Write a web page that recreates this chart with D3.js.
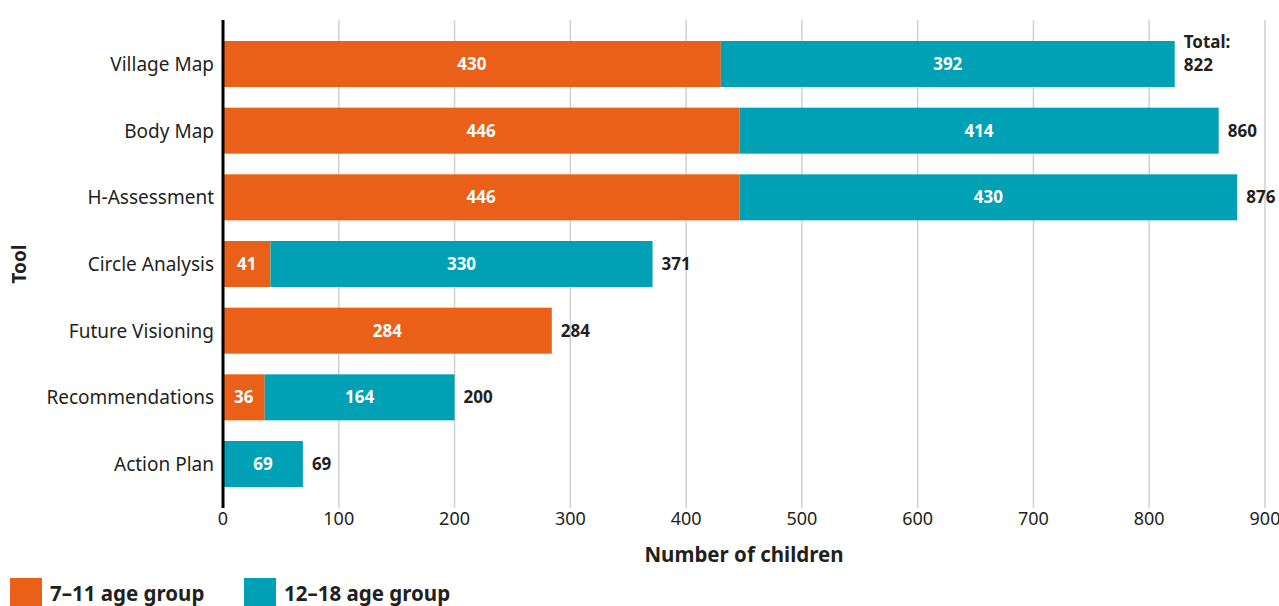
<!DOCTYPE html>
<html>
<head>
<meta charset="utf-8">
<script src="https://cdn.jsdelivr.net/npm/d3@7"></script>
<style>
  body { margin: 0; background: #fff; }
  svg { display: block; font-family: "Noto Sans", "Lato", sans-serif; }
</style>
</head>
<body>
<svg id="chart" width="1279" height="606"></svg>
<script>
// data
const tools = ["Village Map", "Body Map", "H-Assessment", "Circle Analysis", "Future Visioning", "Recommendations", "Action Plan"];
const age7to11 = [430, 446, 446, 41, 284, 36, 0];
const age12to18 = [392, 414, 430, 330, 0, 164, 69];
const totals = [822, 860, 876, 371, 284, 200, 69];
const xTicks = [0, 100, 200, 300, 400, 500, 600, 700, 800, 900];
const seriesNames = ["7–11 age group", "12–18 age group"];
const colors = ["#ea6019", "#00a1b4"];

const margin = { top: 20, right: 14, bottom: 98, left: 223 };
const width = 1279, height = 606;

const svg = d3.select("#chart");

const x = d3.scaleLinear().domain([0, 900]).range([margin.left, 1265]);
const y = d3.scaleBand().domain(tools).range([margin.top, height - margin.bottom])
  .paddingInner(0.31).paddingOuter(0.315);

// gridlines
svg.append("g")
  .selectAll("line")
  .data(xTicks.filter(d => d > 0))
  .join("line")
  .attr("x1", d => x(d)).attr("x2", d => x(d))
  .attr("y1", margin.top).attr("y2", height - margin.bottom)
  .attr("stroke", "#d0d0d0").attr("stroke-width", 1.5);

// tick labels
svg.append("g")
  .selectAll("text")
  .data(xTicks)
  .join("text")
  .attr("x", d => x(d))
  .attr("y", 525)
  .attr("text-anchor", "middle")
  .attr("font-size", 18)
  .attr("fill", "#231f20")
  .text(d => d);

// stacked bars
const rows = tools.map((t, i) => ({ tool: t, a: age7to11[i], b: age12to18[i], total: totals[i] }));
const stack = d3.stack().keys(["a", "b"])(rows);

stack.forEach((layer, li) => {
  const g = svg.append("g");
  g.selectAll("rect")
    .data(layer.filter(d => d[1] - d[0] > 0))
    .join("rect")
    .attr("x", d => x(d[0]))
    .attr("y", d => y(d.data.tool))
    .attr("width", d => x(d[1]) - x(d[0]))
    .attr("height", y.bandwidth())
    .attr("fill", colors[li]);
  g.selectAll("text")
    .data(layer.filter(d => d[1] - d[0] > 0))
    .join("text")
    .attr("x", d => (x(d[0]) + x(d[1])) / 2)
    .attr("y", d => y(d.data.tool) + y.bandwidth() / 2)
    .attr("dy", "0.36em")
    .attr("text-anchor", "middle")
    .attr("font-size", 17)
    .attr("font-weight", "bold")
    .attr("fill", "#fff")
    .text(d => d[1] - d[0]);
});

// totals
svg.append("g")
  .selectAll("text")
  .data(rows)
  .join("text")
  .attr("x", d => x(d.total) + 9)
  .attr("y", d => y(d.tool) + y.bandwidth() / 2)
  .attr("font-size", 17)
  .attr("font-weight", "bold")
  .attr("fill", "#231f20")
  .each(function (d, i) {
    const t = d3.select(this);
    if (i === 0) {
      t.append("tspan").attr("x", x(d.total) + 9).attr("dy", "-0.95em").text("Total:");
      t.append("tspan").attr("x", x(d.total) + 9).attr("dy", "1.35em").text(d.total);
    } else {
      t.attr("dy", "0.36em").text(d.total);
    }
  });

// category labels
svg.append("g")
  .selectAll("text")
  .data(tools)
  .join("text")
  .attr("x", margin.left - 9)
  .attr("y", d => y(d) + y.bandwidth() / 2)
  .attr("dy", "0.36em")
  .attr("text-anchor", "end")
  .attr("font-size", 19)
  .attr("fill", "#231f20")
  .text(d => d);

// y axis line
svg.append("line")
  .attr("x1", margin.left).attr("x2", margin.left)
  .attr("y1", margin.top).attr("y2", height - margin.bottom)
  .attr("stroke", "#000").attr("stroke-width", 3);

// axis titles
svg.append("text")
  .attr("x", (x(0) + x(900)) / 2)
  .attr("y", 562)
  .attr("text-anchor", "middle")
  .attr("font-size", 20.5)
  .attr("font-weight", "bold")
  .attr("fill", "#231f20")
  .text("Number of children");

svg.append("text")
  .attr("transform", "translate(26," + (margin.top + height - margin.bottom) / 2 + ") rotate(-90)")
  .attr("text-anchor", "middle")
  .attr("font-size", 19)
  .attr("font-weight", "bold")
  .attr("fill", "#231f20")
  .text("Tool");

// legend
const legendX = [10, 244];
const legend = svg.append("g");
seriesNames.forEach((name, i) => {
  legend.append("rect")
    .attr("x", legendX[i]).attr("y", 578)
    .attr("width", 32).attr("height", 28)
    .attr("fill", colors[i]);
  legend.append("text")
    .attr("x", legendX[i] + 40).attr("y", 601)
    .attr("font-size", 20.5)
    .attr("font-weight", "bold")
    .attr("fill", "#231f20")
    .text(name);
});
</script>
</body>
</html>
